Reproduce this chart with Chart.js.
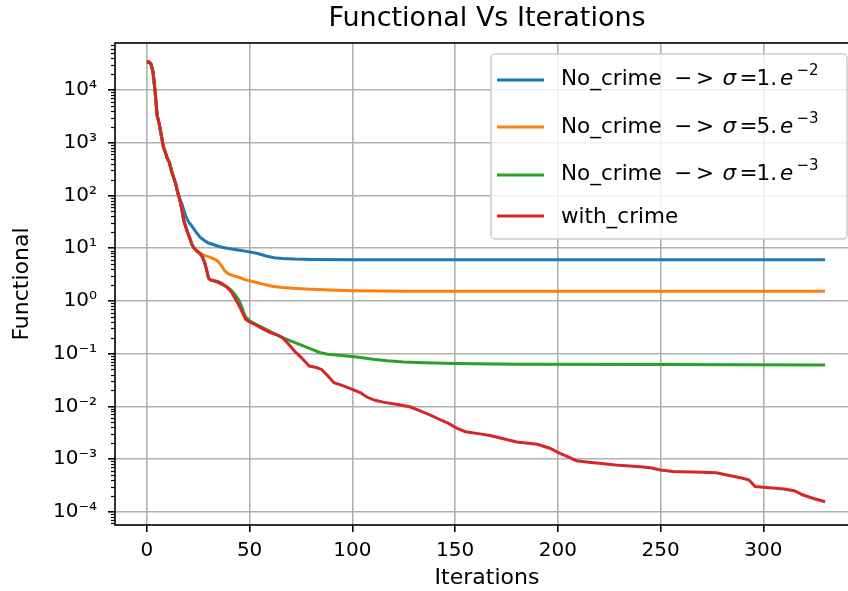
<!DOCTYPE html>
<html lang="en">
<head>
<meta charset="UTF-8">
<title>Functional Vs Iterations</title>
<style>
    html, body { margin: 0; padding: 0; background: #fff; overflow: hidden; }
    #wrap { width: 870px; height: 591px; }
</style>
</head>
<body>
<div id="wrap"><canvas id="functionalChart" width="870" height="591"></canvas></div>
<script src="https://cdn.jsdelivr.net/npm/chart.js"></script>
<script>
// first iterations are identical for every run
const headIter = [0, 1, 2, 3, 4, 5, 6, 7, 8, 9, 10, 11, 12, 13, 14, 15, 16];
const headVal  = [3.4e4, 3.4e4, 3.1e4, 2.2e4, 9.5e3, 3.3e3, 2.3e3, 1.4e3, 850, 650, 500, 420, 290, 220, 170, 115, 85];

// No_crime, sigma = 1e-2
const blueIter = [17, 18, 19, 20, 21, 22, 24, 26, 28, 30, 33, 36, 39, 42, 46, 50, 54, 58, 62, 66, 72, 80, 100, 150, 250, 330];
const blueVal  = [70, 52, 40, 33, 29, 26, 20, 16, 14, 12.5, 11.5, 10.5, 10, 9.5, 9, 8.5, 7.9, 7.1, 6.6, 6.4, 6.2, 6.1, 6.05, 6.0, 6.0, 6.0];

// No_crime, sigma = 5e-3
const orangeIter = [17, 18, 19, 20, 21, 22, 23, 24, 25, 26, 27, 28, 30, 32, 34, 35, 36, 37, 38, 39, 40, 42, 45, 48, 52, 56, 61, 66, 73, 80, 89, 100, 130, 200, 330];
const orangeVal  = [55, 33, 25, 19, 15, 11.5, 10, 9.2, 8.6, 8.1, 7.6, 7.3, 6.9, 6.4, 5.9, 5.4, 4.8, 4.2, 3.7, 3.4, 3.2, 3.0, 2.8, 2.5, 2.3, 2.1, 1.9, 1.8, 1.72, 1.66, 1.6, 1.56, 1.53, 1.52, 1.52];

// No_crime, sigma = 1e-3
const greenIter = [17, 18, 19, 20, 21, 22, 23, 24, 25, 26, 27, 28, 29, 30, 31, 33, 35, 37, 39, 41, 43, 45, 46, 47, 48, 50, 53, 57, 61, 65, 69, 73, 77, 81, 84, 88, 95, 103, 110, 117, 125, 135, 150, 180, 250, 330];
const greenVal  = [55, 33, 25, 19, 15, 11.5, 10, 9, 8.3, 7.8, 6.8, 5.5, 4, 2.7, 2.5, 2.35, 2.2, 2.0, 1.85, 1.6, 1.3, 1.0, 0.8, 0.62, 0.5, 0.42, 0.36, 0.3, 0.25, 0.21, 0.18, 0.156, 0.135, 0.118, 0.105, 0.097, 0.092, 0.085, 0.078, 0.073, 0.069, 0.067, 0.065, 0.063, 0.062, 0.061];

// with_crime
const redIter = [17, 18, 19, 20, 21, 22, 23, 24, 25, 26, 27, 28, 29, 30, 31, 33, 35, 37, 39, 41, 43, 45, 47, 48, 50, 53, 56, 60, 63, 66, 69, 72, 75, 79, 82, 85, 88, 91, 95, 100, 104, 107, 111, 115, 122, 128, 133, 138, 143, 147, 151, 155, 162, 167, 174, 180, 190, 196, 201, 205, 209, 215, 220, 228, 240, 245, 250, 256, 270, 277, 284, 290, 293, 296, 300, 310, 315, 319, 324, 330];
const redVal  = [55, 33, 25, 19, 15, 11.5, 10, 9, 8.3, 7.8, 6.8, 5.5, 4, 2.7, 2.5, 2.4, 2.3, 2.1, 1.8, 1.5, 1.1, 0.8, 0.55, 0.45, 0.4, 0.35, 0.3, 0.25, 0.23, 0.2, 0.15, 0.11, 0.085, 0.058, 0.055, 0.05, 0.038, 0.028, 0.025, 0.021, 0.018, 0.015, 0.013, 0.012, 0.0108, 0.0098, 0.0082, 0.0068, 0.0055, 0.0047, 0.0038, 0.0033, 0.003, 0.0028, 0.0024, 0.0021, 0.0019, 0.0016, 0.00128, 0.0011, 0.00093, 0.00087, 0.00083, 0.00077, 0.00071, 0.00068, 0.00062, 0.00058, 0.00056, 0.00055, 0.00048, 0.00043, 0.0004, 0.0003, 0.00029, 0.00027, 0.00025, 0.00021, 0.00018, 0.000155];

const seriesNames  = ['No_crime', 'No_crime', 'No_crime', 'with_crime'];
const sigmaMant    = ['1', '5', '1', null];
const sigmaExp     = ['\u22122', '\u22123', '\u22123', null];
const seriesColors = ['#1f77b4', '#ff7f0e', '#2ca02c', '#d62728'];

const xTicks = [0, 50, 100, 150, 200, 250, 300];
const yMajorTicks = [1e-4, 1e-3, 1e-2, 1e-1, 1, 1e1, 1e2, 1e3, 1e4];
const X_MIN = -15.5, X_MAX = 346.5;
const Y_MIN = 5.6e-5, Y_MAX = 7.8e4;

const SUP = { '0': '\u2070', '1': '\u00b9', '2': '\u00b2', '3': '\u00b3', '4': '\u2074', '5': '\u2075',
              '6': '\u2076', '7': '\u2077', '8': '\u2078', '9': '\u2079', '-': '\u207b' };
function powLabel(v) {
    const e = String(Math.round(Math.log10(v)));
    return '10' + e.split('').map(c => SUP[c]).join('');
}

function points(iters, vals) {
    const xs = headIter.concat(iters), ys = headVal.concat(vals);
    return xs.map((x, i) => ({ x: x, y: ys[i] }));
}

// major + minor log ticks (2..9 x 10^k between the majors)
function logTicks() {
    const out = [];
    for (let e = -5; e <= 4; e++) {
        for (let m = 1; m <= 9; m++) {
            const v = m * Math.pow(10, e);
            if (v < Y_MIN || v > Y_MAX) continue;
            const major = m === 1 && yMajorTicks.some(t => Math.abs(t - v) < t * 1e-9);
            out.push({ value: v, major: major });
        }
    }
    return out;
}

const FONT = "'DejaVu Sans', sans-serif";
Chart.defaults.font.family = FONT;
Chart.defaults.color = '#000';

const sets = [
    [blueIter, blueVal], [orangeIter, orangeVal], [greenIter, greenVal], [redIter, redVal]
].map((s, i) => ({
    label: seriesNames[i] + (sigmaMant[i] ? ' \u2212> \u03c3 = ' + sigmaMant[i] + '.e' + sigmaExp[i] : ''),
    data: points(s[0], s[1]),
    borderColor: seriesColors[i],
    borderWidth: 3,
    pointRadius: 0,
    tension: 0,
    fill: false,
    order: 3 - i   // red on top
}));

// axes box, minor ticks on the log axis
const framePlugin = {
    id: 'frame',
    afterDatasetsDraw(chart) {
        const { ctx, chartArea: a } = chart;
        const y = chart.scales.y;
        ctx.save();
        ctx.strokeStyle = '#000';
        ctx.lineWidth = 1.2;
        y.ticks.forEach(t => {
            if (t.major) return;
            const py = Math.round(y.getPixelForValue(t.value)) + 0.5;
            ctx.beginPath();
            ctx.moveTo(a.left, py);
            ctx.lineTo(a.left - 4, py);
            ctx.stroke();
        });
        ctx.lineWidth = 1.6;
        ctx.strokeRect(a.left, a.top, a.right - a.left, a.bottom - a.top);
        ctx.restore();
    }
};

// legend with the sigma written in math style
const legendPlugin = {
    id: 'sigmaLegend',
    afterDraw(chart) {
        const { ctx, chartArea: a } = chart;
        const w = 356, h = 185;
        const left = a.right - 12 - w, top = a.top + 11;
        ctx.save();
        ctx.beginPath();
        ctx.roundRect(left, top, w, h, 4);
        ctx.fillStyle = 'rgba(255,255,255,0.8)';
        ctx.fill();
        ctx.strokeStyle = '#cccccc';
        ctx.lineWidth = 1.5;
        ctx.stroke();

        const rowLine = [26, 73, 121, 162];
        const rowBase = [31, 79, 126, 169];
        const x0 = left + 70;
        ctx.textBaseline = 'alphabetic';
        ctx.fillStyle = '#000';
        chart.data.datasets.forEach((ds, i) => {
            ctx.strokeStyle = ds.borderColor;
            ctx.lineWidth = 3;
            ctx.beginPath();
            ctx.moveTo(left + 6, top + rowLine[i]);
            ctx.lineTo(left + 53, top + rowLine[i]);
            ctx.stroke();

            const by = top + rowBase[i];
            ctx.font = '21.5px ' + FONT;
            ctx.fillText(seriesNames[i], x0, by);
            if (!sigmaMant[i]) return;
            ctx.fillText('\u2212', x0 + 113, by);
            ctx.fillText('>', x0 + 135, by);
            ctx.fillText('=', x0 + 178.5, by);
            ctx.fillText(sigmaMant[i] + '.', x0 + 195.5, by);
            ctx.font = 'italic 21.5px ' + FONT;
            ctx.fillText('\u03c3', x0 + 161.5, by);
            ctx.fillText('e', x0 + 219, by);
            ctx.font = '15px ' + FONT;
            ctx.fillText(sigmaExp[i], x0 + 235.5, by - 10);
        });
        ctx.restore();
    }
};

new Chart(document.getElementById('functionalChart'), {
    type: 'line',
    data: { datasets: sets },
    options: {
        responsive: false,
        animation: false,
        layout: { padding: { left: 0, right: 11, top: 0, bottom: 0 } },
        plugins: {
            legend: { display: false },
            tooltip: { enabled: false },
            title: {
                display: true,
                text: 'Functional Vs Iterations',
                fullSize: false,
                color: '#000',
                font: { size: 27, weight: 'normal' },
                padding: { top: 2.5, bottom: 8.1 }
            }
        },
        scales: {
            x: {
                type: 'linear',
                min: X_MIN,
                max: X_MAX,
                afterBuildTicks: s => { s.ticks = xTicks.map(v => ({ value: v })); },
                afterFit: s => { s.height = 66; },
                ticks: { font: { size: 20 }, color: '#000', padding: 7, autoSkip: false, maxRotation: 0,
                         callback: v => String(v) },
                grid: { color: '#b0b0b0', lineWidth: 1.6, tickLength: 7, tickColor: '#000', tickWidth: 1.6 },
                border: { display: false },
                title: { display: true, text: 'Iterations', color: '#000', font: { size: 22 },
                         padding: { top: 0, bottom: 0 } }
            },
            y: {
                type: 'logarithmic',
                min: Y_MIN,
                max: Y_MAX,
                bounds: 'data',
                afterBuildTicks: s => { s.ticks = logTicks(); },
                afterFit: s => { s.width = 115; },
                ticks: { font: { size: 20 }, color: '#000', padding: 11, autoSkip: false,
                         callback: function (v, i, ticks) { return ticks[i].major ? powLabel(v) : ''; } },
                grid: {
                    color: c => (c.tick && c.tick.major) ? '#b0b0b0' : 'rgba(0,0,0,0)',
                    tickColor: c => (c.tick && c.tick.major) ? '#000' : 'rgba(0,0,0,0)',
                    lineWidth: 1.6, tickLength: 7, tickWidth: 1.6
                },
                border: { display: false },
                title: { display: true, text: 'Functional', color: '#000', font: { size: 22 },
                         padding: { top: 9, bottom: 0 } }
            }
        }
    },
    plugins: [framePlugin, legendPlugin]
});
</script>
</body>
</html>
